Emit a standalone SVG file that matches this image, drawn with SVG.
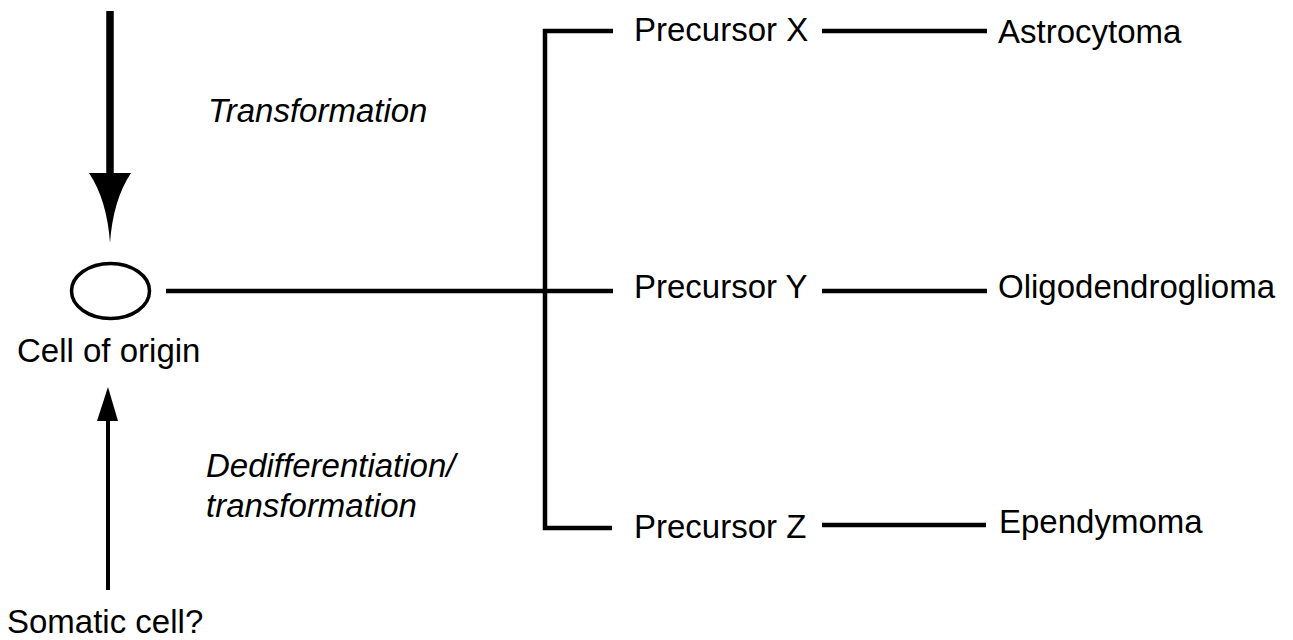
<svg xmlns="http://www.w3.org/2000/svg" width="1293" height="640" viewBox="0 0 1293 640">
  <style>
    .lbl { font-family: "Liberation Sans", Arial, sans-serif; font-size: 33px; fill: #000; }
    .it { font-style: italic; }
    .ln { stroke: #000; stroke-width: 4.5; fill: none; stroke-linecap: butt; }
  </style>
  <rect width="1293" height="640" fill="#fff"/>

  <g id="connectors">
    <!-- transformation arrow into the cell of origin -->
    <line x1="110" y1="11" x2="110" y2="175" stroke="#000" stroke-width="7.5"/>
    <path d="M89,173 L131,173 Q113,200 110,243 Q107,200 89,173 Z" fill="#000"/>
    <!-- dedifferentiation arrow from the somatic cell -->
    <line x1="108" y1="590" x2="108" y2="419" stroke="#000" stroke-width="4"/>
    <path d="M97,421 L118,421 L108,387 Z" fill="#000"/>
    <!-- trunk and branches -->
    <line class="ln" x1="166" y1="291" x2="613" y2="291"/>
    <polyline class="ln" points="613,31 545,31 545,528 612,528"/>
    <!-- precursor to tumour links -->
    <line class="ln" x1="822" y1="31" x2="987" y2="31"/>
    <line class="ln" x1="822" y1="291" x2="987" y2="291"/>
    <line class="ln" x1="822" y1="525" x2="986" y2="525"/>
  </g>

  <g id="cell-of-origin">
    <ellipse cx="110.5" cy="291" rx="39" ry="27.5" fill="#fff" stroke="#000" stroke-width="3.5"/>
    <text class="lbl" x="17" y="362">Cell of origin</text>
  </g>
  <g id="somatic-cell">
    <text class="lbl" x="7" y="633">Somatic cell?</text>
  </g>
  <g id="label-transformation">
    <text class="lbl it" x="208" y="122">Transformation</text>
  </g>
  <g id="label-dedifferentiation">
    <text class="lbl it" x="206" y="477">Dedifferentiation/</text>
    <text class="lbl it" x="206" y="517">transformation</text>
  </g>
  <g id="precursor-x"><text class="lbl" x="634" y="41">Precursor X</text></g>
  <g id="precursor-y"><text class="lbl" x="634" y="298">Precursor Y</text></g>
  <g id="precursor-z"><text class="lbl" x="634" y="538">Precursor Z</text></g>
  <g id="astrocytoma"><text class="lbl" x="998" y="43">Astrocytoma</text></g>
  <g id="oligodendroglioma"><text class="lbl" x="998" y="298">Oligodendroglioma</text></g>
  <g id="ependymoma"><text class="lbl" x="999" y="533">Ependymoma</text></g>
</svg>
